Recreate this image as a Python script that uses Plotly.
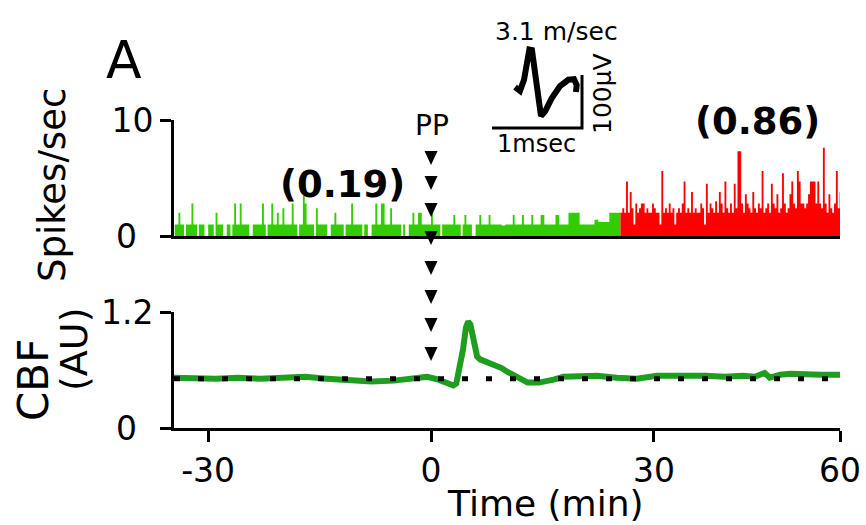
import plotly.graph_objects as go

# ---------------- data ----------------
bin_width = 0.25  # min
green_start = -34.5
green_rate = [1, 1, 2, 1, 1, 0, 1, 1, 1, 2.8, 1, 1, 0, 1, 1, 1, 0, 0,
              1, 1, 1, 0, 2, 1, 1, 1, 0, 0, 1, 1, 0, 1, 2.8, 1, 1, 2.8, 1, 1,
              1, 1, 0, 0, 1, 1, 1, 1, 1, 2.8, 1, 0, 1, 1, 2.8, 1, 1, 2, 1, 1,
              2.4, 1, 1, 1, 1, 2.8, 1, 1, 0, 1, 1, 3.5, 2.8, 1, 1, 1, 1, 0, 2.4, 1,
              1, 1, 1, 1, 0, 0, 1, 1, 2, 1, 1, 1, 1, 0, 1, 1, 1, 2.8, 1, 1,
              1, 1, 1, 0, 1, 1, 0, 0, 1, 1, 2.8, 1, 1, 2.8, 2.8, 1, 1, 1, 2.4, 1,
              1, 1, 1, 1, 0, 1, 0, 0, 1, 1, 2, 1, 1, 2, 2, 1, 1, 1, 1, 1,
              2.8, 1, 1, 1, 1, 0, 1, 1, 1, 1, 1, 1, 1.8, 1, 1, 1, 0, 1, 1.8, 1,
              1, 1, 0, 0, 1, 1, 1.8, 1, 1, 1, 1, 1.8, 1, 1, 1, 1, 1, 1, 0.9, 0.9,
              1, 1, 1, 1, 1.8, 1, 1, 1, 1, 1.8, 1, 1, 1, 1, 1.8, 1, 1, 1, 1, 1.8,
              1.8, 1, 1, 1, 1, 1, 1, 1.8, 1.8, 1, 1, 1, 1, 1, 2, 2, 2, 2, 2, 2,
              1, 1, 1, 1, 1, 1, 1, 1, 1.4, 1.4, 1.2, 1.2, 1.2, 1.2, 1.2, 1.2, 2, 2, 2, 2, 2, 2]
red_start = 25.5
red_rate = [2, 2.4, 2, 4.7, 2, 3.8, 2.4, 1, 2.8, 2, 2.4, 2.8, 2.8, 2, 2.4, 2, 2, 2.8, 2.4, 2,
            2, 1, 5.6, 2, 2.4, 2, 2.8, 2, 2.4, 1, 2, 2.4, 2, 2.8, 4.7, 2, 2.4, 2, 3.8, 2,
            2.4, 2, 2, 2.8, 2.4, 1, 4.5, 2, 2.8, 2.4, 2, 3, 2, 3.8, 2.8, 2, 4.7, 2.4, 2, 2.8,
            2, 4.5, 2.4, 7.3, 7.3, 2.8, 2, 3.6, 2.8, 2.4, 2, 3.8, 2.4, 2, 2.8, 2.4, 5.6, 2, 2.4, 2.8,
            2, 4.5, 2.8, 2.4, 3.6, 2, 2.4, 5.4, 2.8, 2, 2.4, 3.6, 4.7, 2.8, 2.4, 5.6, 4.7, 2.8, 2.8, 2.4,
            2.8, 3.6, 4.7, 4.7, 4.7, 2.8, 4.7, 2.8, 2.4, 7.6, 2.8, 2, 3.6, 2.4, 2, 2.8, 5.6, 2.4, 3.8, 2]

cbf_time = [-34.6, -32, -29, -26, -23, -20, -17, -14, -11, -8, -5, -2, -0.5, 1,
            2.2, 3.0, 3.4, 3.9, 4.3, 4.7, 5.0, 5.3, 5.6, 5.9, 6.2, 6.6, 7.3, 8.0,
            8.8, 9.5, 10.3, 11.0, 12.0, 13.0, 14.5, 15.6, 16.5, 17.8, 19.5, 22.3,
            25, 27.7, 30.4, 32.5, 34.9, 37, 39.5, 42, 43.6, 44.9, 45.6, 47, 48.4,
            50.5, 52.5, 55.05]
cbf_value = [0.52, 0.51, 0.51, 0.52, 0.51, 0.52, 0.53, 0.51, 0.49, 0.48, 0.49, 0.51,
             0.53, 0.50, 0.47, 0.44, 0.46, 0.62, 0.81, 1.04, 1.10, 1.07, 0.98, 0.83,
             0.74, 0.71, 0.69, 0.67, 0.65, 0.62, 0.58, 0.55, 0.50, 0.47, 0.47, 0.48,
             0.50, 0.53, 0.53, 0.54, 0.52, 0.51, 0.54, 0.54, 0.55, 0.54, 0.53, 0.54,
             0.53, 0.57, 0.52, 0.55, 0.56, 0.55, 0.55, 0.55]
cbf_baseline = 0.51

spike_ms = [0.256, 0.311, 0.356, 0.385, 0.415, 0.444, 0.478, 0.515, 0.544, 0.589,
            0.663, 0.756, 0.848, 0.911, 0.941, 0.933]
spike_uv = [77, 70, 91, 119, 148, 147, 103, 53, 23, 31, 56, 79, 91, 92, 81, 68]
scale_ms = 1
scale_uv = 100

time_range = [-34.6, 55.05]
time_tickvals = [-30, 0, 30, 55.05]
time_ticktext = ["-30", "0", "30", "60"]
rate_ticks = [0, 10]
rate_ticktext = ["0\u2002", "10"]
cbf_ticks = [0, 1.2]
cbf_ticktext = ["0\u2002", "1.2"]
pp_time = 0
rate_labels = ["(0.19)", "(0.86)"]

# ---------------- layout helpers (pixel -> paper) ----------------
W, H = 866, 525
L, R, T, B = 174, 840, 20, 428


def px(x):
    return (x - L) / (R - L)


def py(y):
    return (B - y) / (B - T)


def step(start, vals):
    xs, ys = [], []
    for i, v in enumerate(vals):
        xs.append(start + i * bin_width)
        ys.append(v)
    xs.append(start + len(vals) * bin_width)
    ys.append(vals[-1])
    return xs, ys


fig = go.Figure()
gx, gy = step(green_start, green_rate)
rx, ry = step(red_start, red_rate)
fig.add_trace(go.Scatter(x=gx, y=gy, mode="lines", line=dict(shape="hv", width=0, color="#33cc00"),
                         fill="tozeroy", fillcolor="#33cc00", xaxis="x", yaxis="y", showlegend=False))
fig.add_trace(go.Scatter(x=rx, y=ry, mode="lines", line=dict(shape="hv", width=0, color="#ff0000"),
                         fill="tozeroy", fillcolor="#ff0000", xaxis="x", yaxis="y", showlegend=False))

fig.add_trace(go.Scatter(x=cbf_time, y=cbf_value, mode="lines", line=dict(color="#1e9e1e", width=6),
                         xaxis="x2", yaxis="y2", showlegend=False))
fig.add_trace(go.Scatter(x=time_range, y=[cbf_baseline, cbf_baseline], mode="lines",
                         line=dict(color="black", width=5, dash="6px,18px"),
                         xaxis="x2", yaxis="y2", showlegend=False))

# inset spike waveform and scale bars
fig.add_trace(go.Scatter(x=spike_ms, y=spike_uv, mode="lines", line=dict(color="black", width=6),
                         xaxis="x3", yaxis="y3", showlegend=False))
fig.add_trace(go.Scatter(x=[0, scale_ms, scale_ms], y=[0, 0, scale_uv], mode="lines",
                         line=dict(color="black", width=3), xaxis="x3", yaxis="y3", showlegend=False))

axis_common = dict(showgrid=False, zeroline=False, showline=True, linecolor="black", linewidth=3,
                   tickcolor="black", tickwidth=3, ticklen=11, ticks="outside", automargin=False,
                   tickfont=dict(size=33, color="black"))

ins_x0, ins_x1 = -0.05, 1.1
ins_y0, ins_y1 = -10, 160
fig.update_layout(
    width=W, height=H, autosize=False,
    margin=dict(l=L, r=W - R, t=T, b=H - B, pad=0, autoexpand=False),
    paper_bgcolor="white", plot_bgcolor="white",
    font=dict(family="DejaVu Sans", color="black"),
    showlegend=False,
    xaxis=dict(domain=[0, 1], range=time_range, anchor="y", showgrid=False, zeroline=False,
               showline=True, linecolor="black", linewidth=3, showticklabels=False, ticks="",
               automargin=False),
    yaxis=dict(domain=[py(236), py(120)], range=[0, 10], tickvals=rate_ticks, ticktext=rate_ticktext,
               anchor="x", **axis_common),
    xaxis2=dict(domain=[0, 1], range=time_range, anchor="y2", tickvals=time_tickvals,
                ticktext=time_ticktext, **axis_common),
    yaxis2=dict(domain=[0, py(312)], range=[0, 1.2], tickvals=cbf_ticks, ticktext=cbf_ticktext,
                anchor="x2", **axis_common),
    xaxis3=dict(domain=[px(492 + 90 * ins_x0), px(492 + 90 * ins_x1)], range=[ins_x0, ins_x1],
                anchor="y3", visible=False),
    yaxis3=dict(domain=[py(128 - 0.53 * ins_y0), py(128 - 0.53 * ins_y1)], range=[ins_y0, ins_y1],
                anchor="x3", visible=False),
)

ann = []


def text(x, y, s, size, angle=0, bold=False):
    ann.append(dict(x=px(x), y=py(y), xref="paper", yref="paper", text=("<b>%s</b>" % s) if bold else s,
                    showarrow=False, textangle=angle, font=dict(size=size, color="black"),
                    xanchor="center", yanchor="middle"))


text(124, 60, "A", 52)
text(52, 185, "Spikes/sec", 37, -90)
text(33, 380, "CBF", 42, -90)
text(74, 350, "(AU)", 38, -90)
text(342, 184, rate_labels[0], 37, bold=True)
text(757, 121, rate_labels[1], 37, bold=True)
text(432, 126, "PP", 28)
text(556, 31, "3.1 m/sec", 25)
text(536, 144, "1msec", 24)
text(602, 94, "100\u03bcV", 25, -90)
text(545, 503, "Time (min)", 36)
fig.update_layout(annotations=ann)

# PP arrowheads
shapes = []
for yc in [158, 183, 210, 238, 268, 297, 325, 354]:
    shapes.append(dict(type="path", xref="x2", yref="paper", xsizemode="pixel", ysizemode="pixel",
                       xanchor=pp_time, yanchor=py(yc), path="M -6.5,7 L 6.5,7 L 0,-7 Z",
                       fillcolor="black", line=dict(width=0)))
fig.update_layout(shapes=shapes)

fig.write_html("out.html", config={"responsive": False})
